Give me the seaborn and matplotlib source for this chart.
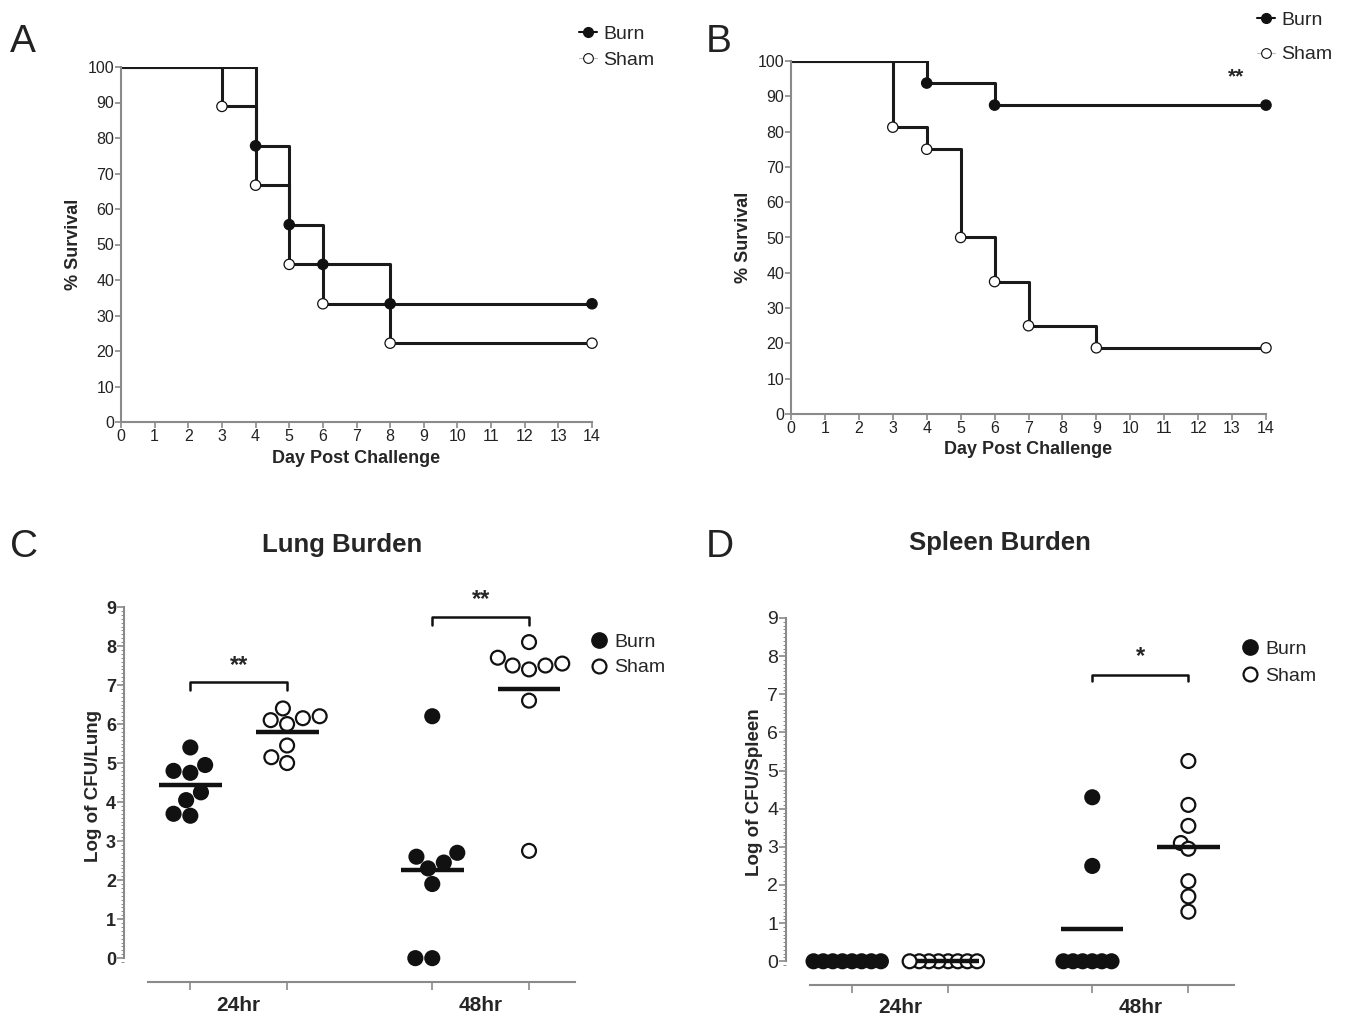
import numpy as np
import pandas as pd
import matplotlib
matplotlib.use("Agg")
import matplotlib.pyplot as plt
import seaborn as sns
from matplotlib.lines import Line2D
from matplotlib.ticker import MultipleLocator

sns.set_theme(style="white")
plt.rcParams['font.family'] = ['Liberation Sans', 'DejaVu Sans']

# survival, panel A
a_burn_day = [0, 4, 5, 6, 8, 14]
a_burn_surv = [100, 77.8, 55.6, 44.4, 33.3, 33.3]
a_sham_day = [0, 3, 4, 5, 6, 8, 14]
a_sham_surv = [100, 88.9, 66.7, 44.4, 33.3, 22.2, 22.2]

# survival, panel B
b_burn_day = [0, 4, 6, 14]
b_burn_surv = [100, 93.75, 87.5, 87.5]
b_sham_day = [0, 3, 4, 5, 6, 7, 9, 14]
b_sham_surv = [100, 81.25, 75, 50, 37.5, 25, 18.75, 18.75]

# lung burden (log CFU), panel C
lung_burn_24 = [5.4, 4.95, 4.8, 4.75, 4.25, 4.05, 3.65, 3.7]
lung_sham_24 = [6.4, 6.2, 6.15, 6.1, 6.0, 5.45, 5.15, 5.0]
lung_burn_48 = [6.2, 2.7, 2.6, 2.45, 2.3, 1.9, 0, 0]
lung_sham_48 = [8.1, 7.7, 7.55, 7.5, 7.5, 7.4, 6.6, 2.75]

# spleen burden (log CFU), panel D
spleen_burn_24 = [0, 0, 0, 0, 0, 0, 0, 0]
spleen_sham_24 = [0, 0, 0, 0, 0, 0, 0, 0]
spleen_burn_48 = [4.3, 2.5, 0, 0, 0, 0, 0, 0]
spleen_sham_48 = [5.25, 4.1, 3.55, 3.1, 2.95, 2.1, 1.7, 1.3]

times = ["24hr", "48hr"]
groups = ["Burn", "Sham"]
GREY = "#8a8a8a"
INK = "#111111"
W = 1348
H = 1019
OFF = 0.2  # seaborn dodge offset for two hue levels


def ax_rect(x0, x1, ytop, ybot):
    return [x0 / W, 1 - ybot / H, (x1 - x0) / W, (ybot - ytop) / H]


def fig_xy(x, y):
    return (x / W, 1 - y / H)


def survival_panel(ax, burn_d, burn_s, sham_d, sham_s):
    df = pd.concat([
        pd.DataFrame({"day": burn_d, "surv": burn_s, "group": "Burn"}),
        pd.DataFrame({"day": sham_d, "surv": sham_s, "group": "Sham"}),
    ])
    sns.lineplot(data=df, x="day", y="surv", units="group", estimator=None,
                 color="#1a1a1a", lw=2.2, drawstyle="steps-post", ax=ax)
    pts = df[df.day > 0]
    sns.scatterplot(data=pts, x="day", y="surv", hue="group",
                    palette={"Burn": INK, "Sham": "white"},
                    edgecolor=INK, linewidth=0.9, s=55, legend=False,
                    zorder=5, clip_on=False, ax=ax)
    ax.set_xlim(0, 14)
    ax.set_ylim(0, 100)
    ax.set_xticks(range(0, 15))
    ax.set_yticks(range(0, 101, 10))
    ax.set_xlabel("Day Post Challenge", fontsize=13, fontweight="bold", labelpad=4)
    ax.set_ylabel("% Survival", fontsize=13, fontweight="bold", labelpad=4)
    sns.despine(ax=ax)
    for s in ["left", "bottom"]:
        ax.spines[s].set_color(GREY)
        ax.spines[s].set_linewidth(1.5)
    ax.tick_params(axis="both", length=4, width=1.2, color=GREY,
                   labelsize=11.5, pad=1, labelcolor="#222222", bottom=True, left=True)


def surv_legend(ax, x, y, spacing):
    handles = [
        Line2D([], [], color=INK, lw=1.5, marker="o", ms=7, mfc=INK, mec=INK),
        Line2D([], [], color="#bbbbbb", lw=0.8, marker="o", ms=7,
               mfc="white", mec=INK, mew=0.8),
    ]
    ax.legend(handles, groups, loc="upper left", bbox_to_anchor=fig_xy(x, y),
              bbox_transform=ax.figure.transFigure, frameon=False,
              handlelength=0.9, handletextpad=0.35, labelspacing=spacing,
              borderaxespad=0, borderpad=0, fontsize=14)


def burden_panel(ax, vals, ylabel, bold_ticks, compact=None):
    rows = []
    for t, grp, v in vals:
        for y in v:
            rows.append({"time": t, "group": grp, "log": y})
    df = pd.DataFrame(rows)
    n_before = len(ax.collections)
    sns.swarmplot(data=df, x="time", y="log", hue="group", order=times,
                  hue_order=groups, dodge=True,
                  palette={"Burn": INK, "Sham": "white"},
                  edgecolor=INK, linewidth=1.6,
                  size=compact if compact else 10, legend=False,
                  clip_on=False, warn_thresh=1, ax=ax)
    swarms = ax.collections[n_before:]
    means = df.groupby(["time", "group"])["log"].mean()
    for i, t in enumerate(times):
        for j, grp in enumerate(groups):
            xc = i + (2 * j - 1) * OFF
            ax.hlines(means[(t, grp)], xc - 0.13, xc + 0.13, color=INK,
                      lw=3.2, zorder=6)
    ax.set_xlim(-0.375, 1.39)
    ax.set_ylim(-0.15, 9)
    ax.set_xticks([-OFF, OFF, 1 - OFF, 1 + OFF])
    ax.set_xticklabels([])
    ax.set_yticks(range(0, 10))
    ax.yaxis.set_minor_locator(MultipleLocator(0.1))
    ax.set_xlabel("")
    ax.set_ylabel(ylabel, fontsize=13.5, fontweight="bold", labelpad=3)
    for i, t in enumerate(times):
        ax.text(i, -0.115, t, transform=ax.get_xaxis_transform(), ha="center",
                va="center", fontsize=15, fontweight="bold")
    sns.despine(ax=ax)
    ax.spines["left"].set_position(("outward", 17))
    ax.spines["bottom"].set_position(("outward", 13))
    ax.spines["left"].set_bounds(0, 9)
    for s in ["left", "bottom"]:
        ax.spines[s].set_color(GREY)
        ax.spines[s].set_linewidth(1.5)
    ax.tick_params(axis="y", which="major", length=5, width=1.2, color=GREY,
                   labelsize=13 if bold_ticks else 14, pad=1, left=True)
    ax.tick_params(axis="y", which="minor", length=2.5, width=0.7, color=GREY, left=True)
    ax.tick_params(axis="x", length=6, width=1.2, color=GREY, bottom=True)
    if bold_ticks:
        for lab in ax.get_yticklabels():
            lab.set_fontweight("bold")
    if compact:
        # lay the swarm out with small dots so tied values overlap like the
        # original, then freeze positions and grow the dots to full size
        ax.figure.canvas.draw()
        for coll in swarms:
            if "draw" in vars(coll):
                del coll.draw
            coll.set_sizes([10 ** 2])


def burden_legend(ax, x, y, spacing):
    handles = [
        Line2D([], [], ls="", marker="o", ms=11, mfc=INK, mec=INK),
        Line2D([], [], ls="", marker="o", ms=10, mfc="white", mec=INK, mew=1.6),
    ]
    ax.legend(handles, groups, loc="upper left", bbox_to_anchor=fig_xy(x, y),
              bbox_transform=ax.figure.transFigure, frameon=False,
              handlelength=1.0, handletextpad=0.3, labelspacing=spacing,
              borderaxespad=0, borderpad=0, fontsize=14)


def bracket(ax, x0, x1, y, drop, label, ytxt):
    ax.plot([x0, x0, x1, x1], [y - drop, y, y, y - drop], color=INK,
            lw=1.8, clip_on=False)
    ax.text((x0 + x1) / 2, ytxt, label, ha="center", va="center",
            fontsize=17, fontweight="bold", clip_on=False)


fig = plt.figure(figsize=(W / 100, H / 100), dpi=100)

axA = fig.add_axes(ax_rect(121, 592, 67, 422))
survival_panel(axA, a_burn_day, a_burn_surv, a_sham_day, a_sham_surv)
surv_legend(axA, 579, 25, 0.46)

axB = fig.add_axes(ax_rect(791, 1266, 61, 414))
survival_panel(axB, b_burn_day, b_burn_surv, b_sham_day, b_sham_surv)
surv_legend(axB, 1257, 11, 0.88)
axB.text(13.12, 95.5, "**", ha="center", va="center", fontsize=15, fontweight="bold")

axC = fig.add_axes(ax_rect(148, 575, 607, 964))
axD = fig.add_axes(ax_rect(810, 1234, 618, 967))

burden_panel(axC, [("24hr", "Burn", lung_burn_24), ("24hr", "Sham", lung_sham_24),
                   ("48hr", "Burn", lung_burn_48), ("48hr", "Sham", lung_sham_48)],
             "Log of CFU/Lung", True)
burden_legend(axC, 589, 633, 0.42)
bracket(axC, -OFF, OFF, 7.08, 0.2, "**", 7.5)
bracket(axC, 1 - OFF, 1 + OFF, 8.74, 0.2, "**", 9.2)

burden_panel(axD, [("24hr", "Burn", spleen_burn_24), ("24hr", "Sham", spleen_sham_24),
                   ("48hr", "Burn", spleen_burn_48), ("48hr", "Sham", spleen_sham_48)],
             "Log of CFU/Spleen", False, compact=5)
burden_legend(axD, 1240, 640, 0.5)
bracket(axD, 1 - OFF, 1 + OFF, 7.5, 0.15, "*", 8.0)

fig.text(*fig_xy(342, 545), "Lung Burden", fontsize=18.5, fontweight="bold",
         ha="center", va="center")
fig.text(*fig_xy(1000, 543), "Spleen Burden", fontsize=18.5, fontweight="bold",
         ha="center", va="center")

for lab, (x, y) in zip("ABCD", [(10, 42), (706, 42), (10, 547), (706, 547)]):
    fig.text(*fig_xy(x, y), lab, fontsize=28, ha="left", va="center", color="#222222")

fig.savefig("out.png", dpi=100)
